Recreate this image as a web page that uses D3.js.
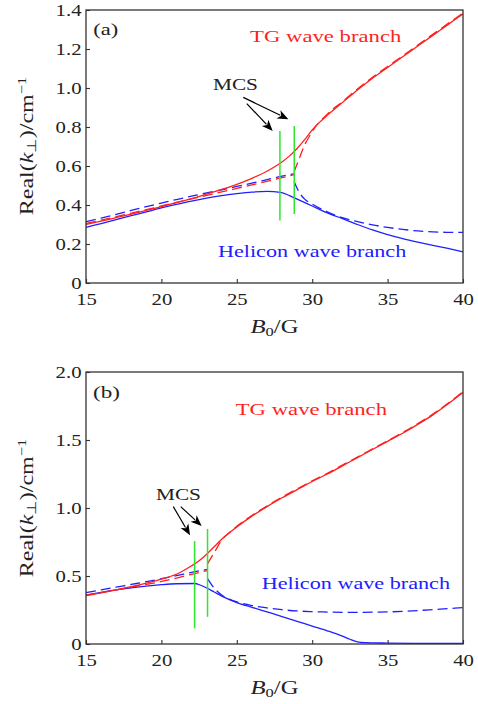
<!DOCTYPE html>
<html><head><meta charset="utf-8">
<script src="https://cdn.jsdelivr.net/npm/d3@7"></script>
<style>html,body{margin:0;padding:0;background:#fff;} svg{display:block;}</style>
</head><body>
<svg id="c" width="478" height="704"></svg>
<script>
// ---------- data ----------
const xTicks = [15, 20, 25, 30, 35, 40];
const xTickLabels = ["15", "20", "25", "30", "35", "40"];
const aYTicks = [0, 0.2, 0.4, 0.6, 0.8, 1.0, 1.2, 1.4];
const aYTickLabels = ["0", "0.2", "0.4", "0.6", "0.8", "1.0", "1.2", "1.4"];
const bYTicks = [0, 0.5, 1.0, 1.5, 2.0];
const bYTickLabels = ["0", "0.5", "1.0", "1.5", "2.0"];

// panel (a)
const aTGSolid = [[15,0.300],[16,0.317],[17,0.335],[18,0.353],[19,0.372],[20,0.392],[21,0.412],[22,0.433],[23,0.456],[24,0.48],[25,0.506],[26,0.537],[27,0.573],[27.9,0.615],[28.5,0.652],[29,0.69],[29.5,0.735],[30,0.785],[30.5,0.825],[31,0.86],[32,0.925],[33,0.99],[34,1.05],[35,1.105],[36,1.16],[37,1.215],[38,1.27],[39,1.325],[40,1.38]];
const aTGDashL = [[15,0.305],[16,0.322],[17,0.34],[18,0.358],[19,0.376],[20,0.395],[21,0.413],[22,0.431],[23,0.449],[24,0.467],[25,0.485],[26,0.503],[27,0.521],[28,0.54],[28.8,0.556]];
const aTGDashR = [[28.8,0.57],[29.1,0.63],[29.45,0.70],[29.8,0.75],[30.2,0.8],[30.6,0.835],[31,0.866],[32,0.93],[33,0.995],[34,1.055],[35,1.11],[36,1.165],[37,1.22],[38,1.275],[39,1.33],[40,1.385]];
const aHelSolid = [[15,0.285],[16,0.305],[17,0.325],[18,0.345],[19,0.365],[20,0.385],[21,0.403],[22,0.42],[23,0.435],[24,0.448],[25,0.458],[26,0.466],[27,0.47],[27.9,0.465],[28.5,0.448],[29,0.43],[30,0.395],[31,0.36],[32,0.33],[33,0.3],[34,0.272],[35,0.248],[36,0.228],[37,0.21],[38,0.193],[39,0.177],[40,0.16]];
const aHelDashL = [[15,0.315],[16,0.333],[17,0.352],[18,0.372],[19,0.392],[20,0.41],[21,0.428],[22,0.445],[23,0.462],[24,0.478],[25,0.495],[26,0.512],[27,0.53],[28,0.548],[28.8,0.56]];
const aHelDashR = [[28.8,0.52],[29.1,0.47],[29.5,0.43],[30,0.405],[31,0.365],[32,0.335],[33,0.315],[34,0.298],[35,0.285],[36,0.275],[37,0.267],[38,0.262],[39,0.26],[40,0.26]];
const aMCSLines = [[27.86, 0.32, 0.78], [28.81, 0.354, 0.805]];
const aArrows = [[25.66, 0.92, 27.38, 0.78], [25.43, 0.952, 28.42, 0.84]];

// panel (b)
const bTGSolid = [[15,0.355],[16,0.376],[17,0.398],[18,0.421],[19,0.447],[20,0.477],[21,0.513],[22,0.575],[22.5,0.612],[23,0.66],[23.5,0.715],[24,0.77],[25,0.86],[26,0.94],[27,1.01],[28,1.075],[29,1.135],[30,1.195],[31,1.25],[32,1.31],[33,1.37],[34,1.43],[35,1.49],[36,1.55],[37,1.615],[38,1.685],[39,1.765],[40,1.85]];
const bTGDashL = [[15,0.36],[16,0.378],[17,0.398],[18,0.418],[19,0.438],[20,0.46],[21,0.485],[22,0.512],[23.05,0.54]];
const bTGDashR = [[23.06,0.59],[23.3,0.635],[23.6,0.69],[24,0.765],[24.5,0.818],[25,0.865],[26,0.945],[27,1.015],[28,1.08],[29,1.14],[30,1.2],[31,1.255],[32,1.315],[33,1.375],[34,1.435],[35,1.495],[36,1.555],[37,1.62],[38,1.69],[39,1.77],[40,1.855]];
const bHelSolid = [[15,0.36],[16,0.38],[17,0.398],[18,0.413],[19,0.426],[20,0.436],[21,0.443],[22.2,0.445],[22.6,0.432],[23,0.412],[23.5,0.382],[24,0.352],[25,0.305],[26,0.27],[27,0.236],[28,0.202],[29,0.167],[30,0.132],[31,0.097],[32,0.058],[32.5,0.035],[33,0.016],[33.5,0.01],[35,0.007],[37.5,0.005],[40,0.005]];
const bHelDashL = [[15,0.377],[16,0.398],[17,0.418],[18,0.438],[19,0.458],[20,0.48],[21,0.503],[22,0.527],[23.05,0.548]];
const bHelDashR = [[23.06,0.48],[23.3,0.44],[23.6,0.40],[24,0.36],[24.5,0.33],[25,0.31],[26,0.283],[27,0.265],[28,0.252],[29,0.243],[30,0.238],[31,0.235],[32,0.233],[33,0.233],[34,0.234],[35,0.236],[36,0.24],[37,0.246],[38,0.253],[39,0.26],[40,0.267]];
const bMCSLines = [[22.2, 0.115, 0.757], [23.06, 0.20, 0.846]];
const bArrows = [[20.79, 1.01, 21.9, 0.80], [21.28, 1.01, 22.67, 0.868]];

// annotation texts: [text, B, k, targetWidth, color]
const aLabels = [["(a)", 15.48, 1.274, 25, "#222"], ["TG wave branch", 25.88, 1.237, 152, "#ff1f1f"], ["Helicon wave branch", 23.75, 0.135, 189, "#2020ff"], ["MCS", 23.42, 0.99, 45, "#222"]];
const bLabels = [["(b)", 15.46, 1.807, 27, "#222"], ["TG wave branch", 24.93, 1.684, 152, "#ff1f1f"], ["Helicon wave branch", 26.65, 0.404, 189, "#2020ff"], ["MCS", 19.64, 1.059, 45, "#222"]];

// ---------- drawing ----------
const RED = "#ff1f1f", BLUE = "#2020ff", GREEN = "#2ee62e";
const FONT = "'Liberation Serif', 'Times New Roman', serif";
const svg = d3.select("#c");

function fitScale(textSel, target) {
  const w = textSel.node().getBBox().width;
  return target / w;
}

function panel(cfg) {
  const g = svg.append("g");
  const x = d3.scaleLinear().domain([15, 40]).range([86, 463]);
  const y = d3.scaleLinear().domain([0, cfg.ymax]).range([cfg.bottom, cfg.top]);
  const line = d3.line().x(d => x(d[0])).y(d => y(d[1])).curve(d3.curveMonotoneX);

  const series = [
    [cfg.hs, BLUE, false], [cfg.hdl, BLUE, true], [cfg.hdr, BLUE, true],
    [cfg.ts, RED, false], [cfg.tdl, RED, true], [cfg.tdr, RED, true]
  ];
  series.forEach(([data, col, dash]) => {
    g.append("path").attr("d", line(data)).attr("fill", "none")
      .attr("stroke", col).attr("stroke-width", 1.3)
      .attr("stroke-dasharray", dash ? "10,5" : null);
  });

  cfg.mcs.forEach(m => {
    g.append("line").attr("x1", x(m[0])).attr("x2", x(m[0]))
      .attr("y1", y(m[1])).attr("y2", y(m[2]))
      .attr("stroke", GREEN).attr("stroke-width", 1.5);
  });

  cfg.arrows.forEach(a => {
    const x0 = x(a[0]), y0 = y(a[1]), x1 = x(a[2]), y1 = y(a[3]);
    const dx = x1 - x0, dy = y1 - y0, L = Math.hypot(dx, dy);
    const ux = dx / L, uy = dy / L, hl = 11, hw = 4.5;
    const bx = x1 - ux * hl, by = y1 - uy * hl;
    g.append("line").attr("x1", x0).attr("y1", y0).attr("x2", bx + ux * 2).attr("y2", by + uy * 2)
      .attr("stroke", "#000").attr("stroke-width", 1.2);
    g.append("path").attr("d", `M${x1},${y1}L${bx - uy * hw},${by + ux * hw}L${bx + ux * 3},${by + uy * 3}L${bx + uy * hw},${by - ux * hw}Z`)
      .attr("fill", "#000");
  });

  // axes
  const xa = g.append("g").attr("transform", `translate(0,${cfg.bottom})`)
    .call(d3.axisBottom(x).tickValues(xTicks).tickSize(-4).tickSizeOuter(0).tickPadding(10)
      .tickFormat((d, i) => xTickLabels[i]));
  const ya = g.append("g").attr("transform", `translate(86,0)`)
    .call(d3.axisLeft(y).tickValues(cfg.yTicks).tickSize(-4).tickSizeOuter(0).tickPadding(4.5)
      .tickFormat((d, i) => cfg.yLabels[i]));
  [xa, ya].forEach(a => {
    a.select(".domain").remove();
    a.selectAll(".tick line").attr("stroke", "#333").attr("stroke-width", 1.1);
    a.selectAll("text").attr("font-family", FONT).attr("font-size", 17).attr("fill", "#222")
      .each(function () {
        const t = d3.select(this);
        const w = this.getComputedTextLength();
        t.attr("textLength", w * 1.22).attr("lengthAdjust", "spacingAndGlyphs");
      });
  });

  g.append("rect").attr("x", 86).attr("y", cfg.top).attr("width", 463 - 86).attr("height", cfg.bottom - cfg.top)
    .attr("fill", "none").attr("stroke", "#333").attr("stroke-width", 1.3);

  // annotation labels
  cfg.labels.forEach(l => {
    const t = g.append("text").text(l[0]).attr("font-family", FONT).attr("font-size", 17)
      .attr("fill", l[4]).attr("x", 0).attr("y", 0);
    const s = fitScale(t, l[3]);
    t.attr("transform", `translate(${x(l[1])},${y(l[2])}) scale(${s},1)`);
  });

  // x title
  const xt = g.append("text").attr("font-family", FONT).attr("font-size", 18).attr("fill", "#222")
    .attr("text-anchor", "middle");
  xt.append("tspan").attr("font-style", "italic").text("B");
  xt.append("tspan").attr("font-size", 12).attr("dy", 3).text("0");
  xt.append("tspan").attr("dy", -3).text("/G");
  const sx = fitScale(xt, 48);
  xt.attr("transform", `translate(274.5,${cfg.xTitleY}) scale(${sx},1)`);

  // y title
  const yt = g.append("text").attr("font-family", FONT).attr("font-size", 19).attr("fill", "#222")
    .attr("text-anchor", "middle");
  yt.append("tspan").text("Real(");
  yt.append("tspan").attr("font-style", "italic").text("k");
  yt.append("tspan").attr("font-size", 13).attr("dy", 3).text("⊥");
  yt.append("tspan").attr("dy", -3).text(")/cm");
  yt.append("tspan").attr("font-size", 13).attr("dy", -7).text("−1");
  const sy = fitScale(yt, 138);
  yt.attr("transform", `translate(33,${cfg.yTitleC}) rotate(-90) scale(${sy},1)`);
}

panel({ top: 10, bottom: 283, ymax: 1.4, yTicks: aYTicks, yLabels: aYTickLabels,
  ts: aTGSolid, tdl: aTGDashL, tdr: aTGDashR, hs: aHelSolid, hdl: aHelDashL, hdr: aHelDashR,
  mcs: aMCSLines, arrows: aArrows, labels: aLabels, xTitleY: 332.5, yTitleC: 146 });
panel({ top: 372, bottom: 644, ymax: 2.0, yTicks: bYTicks, yLabels: bYTickLabels,
  ts: bTGSolid, tdl: bTGDashL, tdr: bTGDashR, hs: bHelSolid, hdl: bHelDashL, hdr: bHelDashR,
  mcs: bMCSLines, arrows: bArrows, labels: bLabels, xTitleY: 694, yTitleC: 508 });
</script>
</body></html>
